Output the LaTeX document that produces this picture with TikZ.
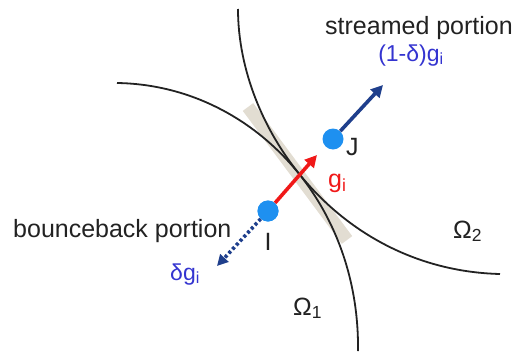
\documentclass[tikz,border=0pt]{standalone}
\usepackage{fontspec}
\setmainfont{Liberation Sans}
\usetikzlibrary{arrows.meta,positioning}
\definecolor{lbDot}{HTML}{1E90F0}
\definecolor{lbNavy}{HTML}{1F3F8C}
\definecolor{lbRed}{HTML}{F01818}
\definecolor{lbBlueText}{HTML}{3434D0}
\definecolor{lbWall}{HTML}{E2DDD2}
\definecolor{lbInk}{HTML}{222222}
\tikzset{
  lbLabel/.style={
    font=\fontsize{25}{30}\selectfont,
    text=lbInk,
    inner sep=0pt,
    anchor=base west
  },
  lbBlue/.style={
    lbLabel,
    font=\fontsize{23}{28}\selectfont,
    text=lbBlueText
  },
  lbSite/.style={
    circle,
    fill=lbDot,
    minimum size=21pt,
    inner sep=0pt
  },
  lbBoundary/.style={
    line width=1.8pt,
    draw=lbInk
  },
  lbWallBand/.style={
    line width=13pt,
    draw=lbWall
  },
  lbFlow/.style={
    -{Triangle[length=12pt,width=12pt]},
    line width=3.6pt,
    draw=lbRed
  },
  lbStream/.style={
    -{Triangle[length=12pt,width=12pt]},
    line width=3.6pt,
    draw=lbNavy
  },
  lbBounce/.style={
    -{Triangle[length=11pt,width=11pt]},
    line width=3.6pt,
    draw=lbNavy,
    dash pattern=on 3pt off 2.5pt
  }
}
\begin{document}
\begin{tikzpicture}[x=1pt, y=-1pt]
  \useasboundingbox (0,0) rectangle (517,351);

  % wall segment between the two subdomains
  \coordinate (wallA) at (248,107);
  \coordinate (wallB) at (347,240);
  \draw[lbWallBand] (wallA) -- (wallB);

  % subdomain boundaries
  \draw[lbBoundary] (117,83) .. controls (250,85) and (360,200) .. (358,351);
  \draw[lbBoundary] (238,9) .. controls (238,130) and (340,270) .. (500,274);

  \node[lbSite] (siteI) at (268,211) {};
  \node[lbSite] (siteJ) at (333,139) {};

  \coordinate (gTip) at (317,155);
  \coordinate (streamTip) at (383,85);
  \coordinate (bounceTip) at (217,266);

  \draw[lbFlow] (siteI) -- (gTip);
  \draw[lbStream] (siteJ) -- (streamTip);
  \draw[lbBounce] (siteI) -- (bounceTip);
  \node[lbSite] at (siteI) {};

  \node[lbLabel, anchor=base] (streamTxt) at (419,34) {streamed portion};
  \node[lbBlue, anchor=base] (streamVal) at (411,61) {(1-δ)g\textsubscript{i}};
  \node[lbLabel] (bounceTxt) at (13,237) {bounceback portion};
  \node[lbBlue] (bounceVal) at (170,280) {δg\textsubscript{i}};
  \node[lbLabel, text=lbRed] (gLbl) at (328,187) {g\textsubscript{i}};
  \node[lbLabel, anchor=base] (iLbl) at (268,250) {I};
  \node[lbLabel] (jLbl) at (346,155) {J};
  \node[lbLabel] (omegaTwo) at (453,238) {Ω\textsubscript{2}};
  \node[lbLabel] (omegaOne) at (293,315) {Ω\textsubscript{1}};
\end{tikzpicture}
\end{document}
